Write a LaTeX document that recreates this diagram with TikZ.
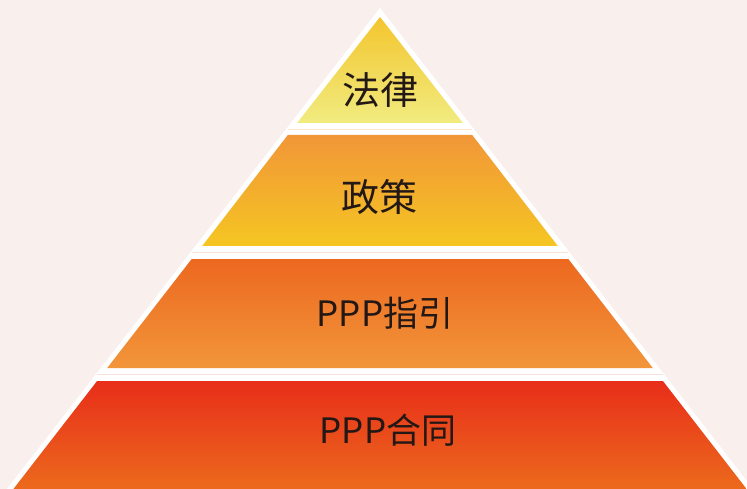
\documentclass[tikz,border=0pt]{standalone}
\usepackage{fontspec}
\newfontfamily\cjk{Noto Sans CJK SC}
\definecolor{bgc}{HTML}{F9EFEC}
\definecolor{txt}{HTML}{231815}
\definecolor{laA}{HTML}{F3C52E}
\definecolor{laB}{HTML}{F1EC80}
\definecolor{lbA}{HTML}{F19638}
\definecolor{lbB}{HTML}{F5C622}
\definecolor{lcA}{HTML}{EC6820}
\definecolor{lcB}{HTML}{F2963A}
\definecolor{ldA}{HTML}{E82E1A}
\definecolor{ldB}{HTML}{EC6A1C}
\tikzset{
  lbl/.style={font=\cjk\fontsize{38}{42}\selectfont, text=txt, inner sep=0pt, anchor=center},
  lblp/.style={font=\cjk\fontsize{35}{40}\selectfont, text=txt, inner sep=0pt, anchor=center},
  gapline/.style={line width=1pt}
}
\begin{document}
\begin{tikzpicture}[x=1pt,y=-1pt]
\useasboundingbox (0,0) rectangle (747,489);
\fill[bgc] (0,0) rectangle (747,489);
% white outer triangle
\fill[white] (380,8) -- (1.5,496) -- (758.5,496) -- cycle;
% layers
\shade[top color=laA, bottom color=laB] (380,17) -- (297.1,123) -- (462.9,123) -- cycle;
\shade[top color=lbA, bottom color=lbB] (287.8,135) -- (202.2,246) -- (557.8,246) -- (472.2,135) -- cycle;
\shade[top color=lcA, bottom color=lcB] (191.7,259) -- (107.2,368) -- (652.8,368) -- (568.3,259) -- cycle;
\shade[top color=ldA, bottom color=ldB] (97.1,381) -- (13.4,489) -- (746.6,489) -- (662.9,381) -- cycle;
% faint seams
\draw[gapline, lbA!25!white] (288,129.5) -- (472,129.5);
\draw[gapline, lcA!20!white] (192,252.5) -- (568,252.5);
\draw[gapline, ldA!15!white] (97,374.5) -- (663,374.5);
% labels
\node[lbl] (t1) at (380,90) {法律};
\node[lbl] (t2) at (379,197) {政策};
\node[lblp] (t3) at (385,313) {PPP指引};
\node[lblp] (t4) at (388,430) {PPP合同};
\end{tikzpicture}
\end{document}
